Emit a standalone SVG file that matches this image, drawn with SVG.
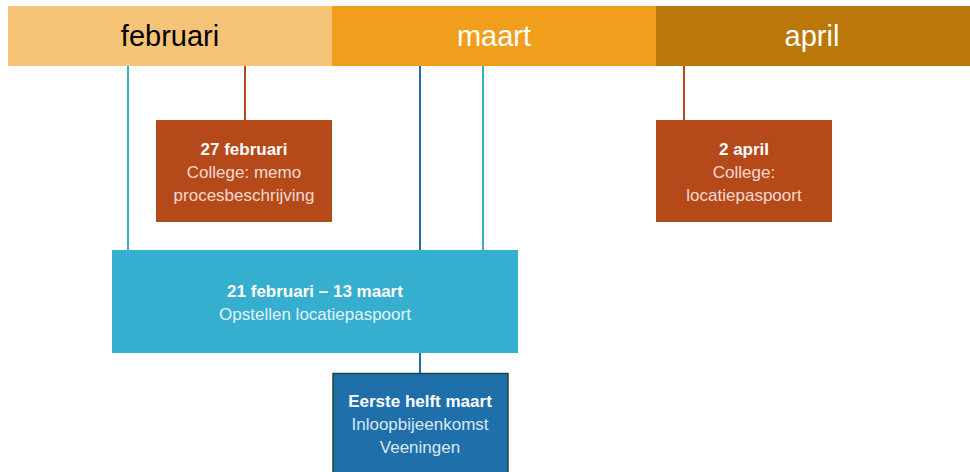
<svg xmlns="http://www.w3.org/2000/svg" width="970" height="472" viewBox="0 0 970 472">
<style>
text{font-family:"Liberation Sans",Arial,sans-serif;text-anchor:middle}
.m{font-size:29px}
.b{font-size:17px;font-weight:bold;fill:#ffffff}
.r{font-size:17px}
.rust{fill:#B5491A}
.rt{fill:#F5DBCF}
.ct{fill:#E2F4FA}
.dt{fill:#D9E8F4}
</style>
<rect width="970" height="472" fill="#ffffff"/>
<g id="months">
<rect x="8" y="6" width="324" height="60" fill="#F6C477"/>
<rect x="332" y="6" width="324" height="60" fill="#F09E1C"/>
<rect x="656" y="6" width="314" height="60" fill="#BC770A"/>
<text class="m" x="170" y="46" fill="#000000">februari</text>
<text class="m" x="494" y="46" fill="#ffffff">maart</text>
<text class="m" x="812" y="46" fill="#ffffff">april</text>
</g>
<g id="connectors" fill="none" stroke-width="2">
<line x1="128" y1="66" x2="128" y2="250" stroke="#35AECF"/>
<line x1="245" y1="66" x2="245" y2="120" stroke="#B5491A"/>
<line x1="420" y1="66" x2="420" y2="250" stroke="#1F6FAA"/>
<line x1="483" y1="66" x2="483" y2="250" stroke="#35AECF"/>
<line x1="420" y1="353" x2="420" y2="373" stroke="#1F6FAA"/>
<line x1="684" y1="66" x2="684" y2="120" stroke="#B5491A"/>
</g>
<g id="node-27feb">
<rect class="rust" x="156" y="120" width="176" height="102"/>
<text class="b" x="244" y="155">27 februari</text>
<text class="r rt" x="244" y="178">College: memo</text>
<text class="r rt" x="244" y="201">procesbeschrijving</text>
</g>
<g id="node-2april">
<rect class="rust" x="656" y="120" width="176" height="102"/>
<text class="b" x="744" y="155">2 april</text>
<text class="r rt" x="744" y="178">College:</text>
<text class="r rt" x="744" y="201">locatiepaspoort</text>
</g>
<g id="node-opstellen">
<rect x="112" y="250" width="406" height="103" fill="#35AECF"/>
<text class="b" x="315" y="297">21 februari – 13 maart</text>
<text class="r ct" x="315" y="320">Opstellen locatiepaspoort</text>
</g>
<g id="node-inloop">
<rect x="333" y="373.5" width="175" height="104" fill="#1F6FAA" stroke="#1A4A40" stroke-width="1.5"/>
<text class="b" x="420" y="407">Eerste helft maart</text>
<text class="r dt" x="420" y="430">Inloopbijeenkomst</text>
<text class="r dt" x="420" y="453">Veeningen</text>
</g>
</svg>
